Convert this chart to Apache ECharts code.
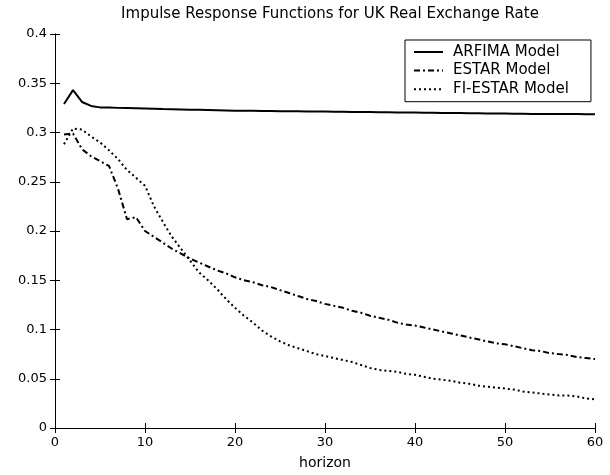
<!DOCTYPE html>
<html>
<head>
<meta charset="utf-8">
<script src="https://cdn.jsdelivr.net/npm/echarts@6/dist/echarts.min.js"></script>
<style>html,body{margin:0;padding:0;background:#fff;}#c{width:610px;height:475px;}</style>
</head>
<body>
<div id="c"></div>
<script>
var horizons = [1,2,3,4,5,6,7,8,9,10,11,12,13,14,15,16,17,18,19,20,21,22,23,24,25,26,27,28,29,30,31,32,33,34,35,36,37,38,39,40,41,42,43,44,45,46,47,48,49,50,51,52,53,54,55,56,57,58,59,60];
var arfima = [0.329,0.343,0.331,0.327,0.3255,0.3253,0.3250,0.3248,0.3246,0.3244,0.3241,0.3238,0.3236,0.3234,0.3232,0.3230,0.3228,0.3226,0.3224,0.3222,
              0.3221,0.3220,0.3219,0.3218,0.3217,0.3216,0.3215,0.3214,0.3213,0.3212,0.3211,0.3210,0.3209,0.3208,0.3207,0.3206,0.3205,0.3204,0.3203,0.3202,
              0.3201,0.3200,0.3199,0.3198,0.3197,0.3196,0.3195,0.3194,0.3193,0.3192,0.3191,0.3190,0.3189,0.3189,0.3188,0.3188,0.3187,0.3187,0.3186,0.3186];
var estar = [0.298,0.299,0.283,0.276,0.271,0.266,0.243,0.212,0.214,0.200,0.194,0.188,0.182,0.177,0.172,0.168,0.164,0.160,0.157,0.153,
             0.150,0.148,0.145,0.143,0.140,0.137,0.134,0.131,0.129,0.126,0.124,0.122,0.119,0.117,0.114,0.112,0.110,0.107,0.105,0.104,
             0.102,0.100,0.098,0.096,0.094,0.092,0.090,0.088,0.086,0.085,0.083,0.081,0.079,0.078,0.076,0.075,0.074,0.072,0.071,0.070];
var fiestar = [0.288,0.304,0.303,0.296,0.290,0.282,0.273,0.262,0.254,0.246,0.225,0.209,0.194,0.182,0.170,0.158,0.150,0.141,0.131,0.122,
               0.114,0.107,0.099,0.093,0.088,0.084,0.081,0.078,0.075,0.073,0.071,0.069,0.067,0.064,0.061,0.059,0.058,0.057,0.055,0.054,
               0.052,0.050,0.049,0.048,0.046,0.045,0.043,0.042,0.041,0.040,0.039,0.037,0.036,0.035,0.034,0.033,0.033,0.032,0.030,0.029];
var seriesNames = ['ARFIMA Model','ESTAR Model','FI-ESTAR Model'];
var titleText = 'Impulse Response Functions for UK Real Exchange Rate';
var xName = 'horizon';

function pairs(vals){ return horizons.map(function(h,i){ return [h, vals[i]]; }); }

var font = '"DejaVu Sans", Verdana, sans-serif';
var chart = echarts.init(document.getElementById('c'), null, {renderer:'canvas'});
var axisBase = {
  axisLine:{show:true, lineStyle:{color:'#000', width:1}},
  axisTick:{show:true, inside:true, length:5, lineStyle:{color:'#000'}},
  splitLine:{show:false}
};
chart.setOption({
  animation:false,
  backgroundColor:'#fff',
  textStyle:{fontFamily:font},
  title:{text:titleText, left:325, textAlign:'center', top:2,
         textStyle:{fontSize:15, fontWeight:'normal', color:'#000', fontFamily:font}},
  grid:{left:55, right:15, top:34, bottom:45},
  legend:{
    orient:'vertical', left:405, top:40,
    backgroundColor:'#fff', borderColor:'#000', borderWidth:1, borderRadius:0,
    padding:[4.5,22,5,8], itemWidth:29, itemHeight:12, itemGap:3.6,
    itemStyle:{opacity:0},
    textStyle:{fontSize:15, color:'#000', fontFamily:font, padding:[0,0,0,5]},
    data:seriesNames
  },
  xAxis:[
    Object.assign({type:'value', min:0, max:60, interval:10, position:'bottom',
      name:xName, nameLocation:'middle', nameGap:28,
      nameTextStyle:{fontSize:14, color:'#000', fontFamily:font},
      axisLabel:{show:true, color:'#000', fontSize:13, margin:8, fontFamily:font}}, axisBase),
    Object.assign({type:'value', min:0, max:60, interval:10, position:'top',
      axisLabel:{show:false}}, axisBase)
  ],
  yAxis:[
    Object.assign({type:'value', min:0, max:0.4, interval:0.05, position:'left',
      axisLabel:{show:true, color:'#000', fontSize:13, margin:8, fontFamily:font}}, axisBase),
    Object.assign({type:'value', min:0, max:0.4, interval:0.05, position:'right',
      axisLabel:{show:false}}, axisBase)
  ],
  series:[
    {name:seriesNames[0], type:'line', data:pairs(arfima), showSymbol:false, symbol:'none',
     lineStyle:{color:'#000', width:2, type:'solid'}, itemStyle:{color:'#000'}},
    {name:seriesNames[1], type:'line', data:pairs(estar), showSymbol:false, symbol:'none',
     lineStyle:{color:'#000', width:2, type:[6,3,2,3]}, itemStyle:{color:'#000'}},
    {name:seriesNames[2], type:'line', data:pairs(fiestar), showSymbol:false, symbol:'none',
     lineStyle:{color:'#000', width:2, type:[2,3]}, itemStyle:{color:'#000'}}
  ]
});
</script>
</body>
</html>
